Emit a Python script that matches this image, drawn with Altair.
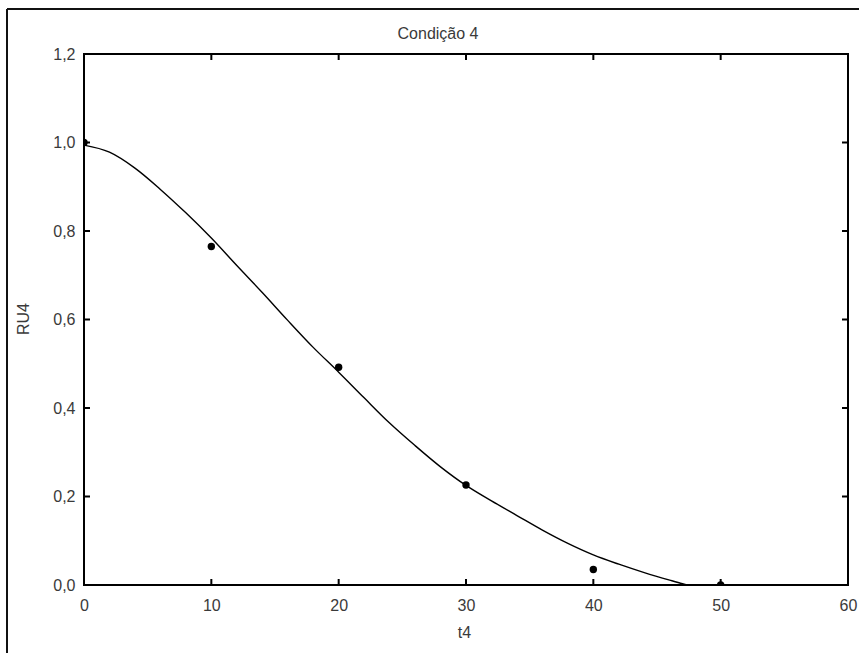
import altair as alt
import pandas as pd

# Observed points
t_obs = [0, 10, 20, 30, 40, 50]
ru_obs = [1.0, 0.765, 0.492, 0.226, 0.035, 0.0]

# Fitted curve
t_fit = [0, 2, 4, 6, 8, 10, 12, 14, 16, 18, 20, 22, 24, 26, 28, 30,
         32, 34, 36, 38, 40, 42, 44, 46, 47, 48]
ru_fit = [0.994, 0.978, 0.942, 0.894, 0.841, 0.784, 0.722, 0.661, 0.598,
          0.537, 0.481, 0.423, 0.366, 0.315, 0.267, 0.225, 0.190, 0.157,
          0.124, 0.094, 0.068, 0.047, 0.028, 0.011, 0.003, -0.004]

x_ticks = [0, 10, 20, 30, 40, 50, 60]
y_ticks = [0.0, 0.2, 0.4, 0.6, 0.8, 1.0, 1.2]

TITLE = "Condição 4"

W, H = 764, 531
TICK = 6
FONT = "Liberation Sans"
TXT = "#3a3a3a"
FS = 16

obs = pd.DataFrame({"t4": t_obs, "RU4": ru_obs})
fit = pd.DataFrame({"t4": t_fit, "RU4": ru_fit})
xt = pd.DataFrame({"v": x_ticks})
yt = pd.DataFrame({"v": y_ticks})
one = pd.DataFrame({"label": [TITLE]})

xscale = alt.Scale(domain=[0, 60], nice=False, zero=False)
yscale = alt.Scale(domain=[0, 1.2], nice=False, zero=False)

comma = "replace(format(datum.value, '.1f'), '.', ',')"

x_axis = alt.Axis(values=x_ticks, ticks=False, domain=False, grid=False,
                  labelPadding=12, labelFontSize=FS, labelFont=FONT,
                  labelColor=TXT, title="t4", titleFont=FONT,
                  titleFontSize=FS, titleFontWeight="normal", titleColor=TXT,
                  titleX=W / 2 - 2, titleY=47, titleAlign="center",
                  titleBaseline="middle", labelFlush=False)
y_axis = alt.Axis(values=y_ticks, ticks=False, domain=False, grid=False,
                  labelPadding=9, labelFontSize=FS, labelFont=FONT,
                  labelColor=TXT, labelExpr=comma, title="RU4",
                  titleFont=FONT, titleFontSize=FS, titleFontWeight="normal",
                  titleColor=TXT, titleX=-61, titleY=H / 2 - 1,
                  titleAngle=-90, titleAlign="center", titleBaseline="middle",
                  labelFlush=False)

curve = alt.Chart(fit).mark_line(color="black", strokeWidth=1.4, clip=True,
                                  interpolate="monotone").encode(
    x=alt.X("t4:Q", scale=xscale, axis=x_axis),
    y=alt.Y("RU4:Q", scale=yscale, axis=y_axis),
)

points = alt.Chart(obs).mark_circle(color="black", opacity=1, size=55,
                                    clip=True).encode(
    x=alt.X("t4:Q", scale=xscale),
    y=alt.Y("RU4:Q", scale=yscale),
)

# Inward tick marks on all four sides
tick_style = dict(color="black", strokeWidth=2)
bottom_ticks = alt.Chart(xt).mark_rule(**tick_style).encode(
    x=alt.X("v:Q", scale=xscale), y=alt.value(H), y2=alt.value(H - TICK))
top_ticks = alt.Chart(xt).mark_rule(**tick_style).encode(
    x=alt.X("v:Q", scale=xscale), y=alt.value(0), y2=alt.value(TICK))
left_ticks = alt.Chart(yt).mark_rule(**tick_style).encode(
    y=alt.Y("v:Q", scale=yscale), x=alt.value(0), x2=alt.value(TICK))
right_ticks = alt.Chart(yt).mark_rule(**tick_style).encode(
    y=alt.Y("v:Q", scale=yscale), x=alt.value(W), x2=alt.value(W - TICK))

# Outer frame edges
frame_left = alt.Chart(one).mark_rule(color="#111", strokeWidth=2).encode(
    x=alt.value(-77), y=alt.value(-45), y2=alt.value(H + 80))
frame_top = alt.Chart(one).mark_rule(color="#111", strokeWidth=2).encode(
    y=alt.value(-45), x=alt.value(-77), x2=alt.value(W + 20))

# Chart heading above the plot area
heading = alt.Chart(one).mark_text(
    font=FONT, fontSize=FS, color=TXT, align="center", baseline="alphabetic"
).encode(text="label:N", x=alt.value(W / 2 - 28), y=alt.value(-15))

chart = alt.layer(
    frame_left, frame_top, heading, curve, points,
    bottom_ticks, top_ticks, left_ticks, right_ticks,
).properties(
    width=W,
    height=H,
    autosize=alt.AutoSizeParams(type="none"),
    padding={"left": 84, "top": 54, "right": 11, "bottom": 68},
    background="white",
).configure_view(
    stroke="black", strokeWidth=2
)

chart.save("out.html", embed_options={"renderer": "svg", "actions": False})
